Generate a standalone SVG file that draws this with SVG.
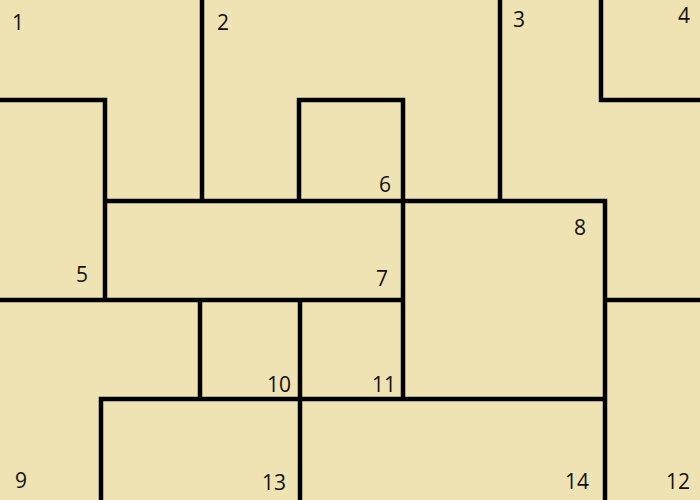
<svg xmlns="http://www.w3.org/2000/svg" width="700" height="500" viewBox="0 0 700 500">
<style>
.w{fill:none;stroke:#000;stroke-width:4.5;stroke-linejoin:miter;stroke-linecap:butt}
.n{font-family:"Open Sans","Noto Sans",sans-serif;font-size:21px;fill:#111}
</style>
<rect width="700" height="500" fill="#EFE3B3"/>
<g id="walls">
<path class="w" d="M0,100 H105 V300"/>
<path class="w" d="M202,0 V201"/>
<path class="w" d="M105,201 H605 V500"/>
<path class="w" d="M299,201 V100 H403 V399"/>
<path class="w" d="M500,0 V201"/>
<path class="w" d="M601,0 V100 H700"/>
<path class="w" d="M0,300 H403"/>
<path class="w" d="M605,300 H700"/>
<path class="w" d="M200,300 V399"/>
<path class="w" d="M300,300 V500"/>
<path class="w" d="M101,500 V399 H605"/>
</g>
<g id="labels">
<text class="n" x="12" y="30">1</text>
<text class="n" x="217" y="30">2</text>
<text class="n" x="513" y="27">3</text>
<text class="n" x="678" y="23">4</text>
<text class="n" x="76" y="282">5</text>
<text class="n" x="379" y="192">6</text>
<text class="n" x="376" y="286">7</text>
<text class="n" x="574" y="235">8</text>
<text class="n" x="15" y="488">9</text>
<text class="n" x="267" y="392">10</text>
<text class="n" x="372" y="392">11</text>
<text class="n" x="666" y="489">12</text>
<text class="n" x="262" y="490">13</text>
<text class="n" x="565" y="489">14</text>
</g>
</svg>
